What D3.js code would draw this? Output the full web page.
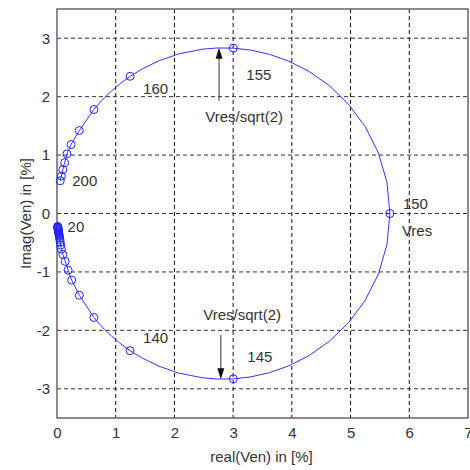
<!DOCTYPE html>
<html>
<head>
<meta charset="utf-8">
<script src="https://cdn.jsdelivr.net/npm/d3@7"></script>
<style>
  html, body { margin: 0; padding: 0; background: #fff; }
  svg text { font-family: "Liberation Sans", Arial, Helvetica, sans-serif; fill: #333; }
</style>
</head>
<body>
<svg id="chart" width="470" height="470"></svg>
<script>
// Frequency markers every 5 Hz (locus of Ven in the complex plane)
const markerFreq = [20, 25, 30, 35, 40, 45, 50, 55, 60, 65, 70, 75, 80, 85, 90, 95, 100,
  105, 110, 115, 120, 125, 130, 135, 140, 145, 150, 155, 160, 165, 170, 175, 180, 185, 190, 195, 200];
const markerRe = [0.010, 0.012, 0.014, 0.016, 0.018, 0.020, 0.022, 0.025, 0.027, 0.030, 0.033,
  0.036, 0.040, 0.044, 0.049, 0.055, 0.062, 0.075, 0.10, 0.14, 0.19, 0.25, 0.38, 0.629, 1.245,
  3.003, 5.670, 3.003, 1.245, 0.629, 0.38, 0.24, 0.17, 0.13, 0.10, 0.075, 0.055];
const markerIm = [-0.22, -0.23, -0.24, -0.25, -0.26, -0.27, -0.285, -0.30, -0.315, -0.33, -0.35,
  -0.37, -0.39, -0.42, -0.45, -0.49, -0.54, -0.61, -0.70, -0.82, -0.97, -1.14, -1.40, -1.780, -2.348,
  -2.830, 0, 2.830, 2.348, 1.780, 1.42, 1.18, 1.02, 0.87, 0.75, 0.64, 0.56];

// Finer sampling of the locus around resonance (135..165 Hz)
const fineFreq = [135, 136, 137, 138, 139, 140, 141, 142, 143, 144, 144.5, 145, 145.5, 146, 146.5,
  147, 147.5, 148, 148.5, 149, 149.5, 150, 150.5, 151, 151.5, 152, 152.5, 153, 153.5, 154, 154.5,
  155, 155.5, 156, 157, 158, 159, 160, 161, 162, 163, 164, 165];
const fineRe = [0.629, 0.712, 0.811, 0.924, 1.069, 1.245, 1.461, 1.727, 2.068, 2.489, 2.731, 3.003,
  3.297, 3.617, 3.949, 4.295, 4.639, 4.964, 5.250, 5.475, 5.620, 5.670, 5.620, 5.475, 5.250, 4.964,
  4.639, 4.295, 3.949, 3.617, 3.297, 3.003, 2.731, 2.489, 2.068, 1.727, 1.461, 1.245, 1.069, 0.924,
  0.811, 0.712, 0.629];
const fineIm = [-1.780, -1.879, -1.984, -2.093, -2.219, -2.348, -2.479, -2.610, -2.730, -2.814, -2.833,
  -2.830, -2.797, -2.725, -2.607, -2.430, -2.187, -1.871, -1.485, -1.035, -0.530, 0, 0.530, 1.035,
  1.485, 1.871, 2.187, 2.430, 2.607, 2.725, 2.797, 2.830, 2.833, 2.814, 2.730, 2.610, 2.479, 2.348,
  2.219, 2.093, 1.984, 1.879, 1.780];

const xTicks = [0, 1, 2, 3, 4, 5, 6, 7];
const yTicks = [-3, -2, -1, 0, 1, 2, 3];

// Frequency labels placed next to their markers
const freqLabels = [
  { f: 20,  dx: 10, dy: 6 },
  { f: 140, dx: 13, dy: -8 },
  { f: 145, dx: 14, dy: -17 },
  { f: 150, dx: 13, dy: -5 },
  { f: 155, dx: 13, dy: 32 },
  { f: 160, dx: 13, dy: 18 },
  { f: 200, dx: 12, dy: 5 }
];

// Traced curve: 5 Hz points off resonance, finer points near it
const curve = [];
markerFreq.forEach((f, i) => {
  if (f < 135 || f > 165) curve.push({ f, re: markerRe[i], im: markerIm[i] });
});
fineFreq.forEach((f, i) => curve.push({ f, re: fineRe[i], im: fineIm[i] }));
curve.sort((a, b) => a.f - b.f);

const markers = markerFreq.map((f, i) => ({ f, re: markerRe[i], im: markerIm[i] }));

const svg = d3.select("#chart");
const x = d3.scaleLinear().domain([0, 7]).range([57, 468]);
const y = d3.scaleLinear().domain([-3.5, 3.5]).range([418, 9]);

// Dashed grid
const grid = svg.append("g");
grid.selectAll("line.gx").data(xTicks.slice(1, -1)).join("line")
  .attr("x1", d => x(d)).attr("x2", d => x(d))
  .attr("y1", y(3.5)).attr("y2", y(-3.5))
  .attr("stroke", "#111").attr("stroke-width", 1).attr("stroke-dasharray", "4,3");
grid.selectAll("line.gy").data(yTicks).join("line")
  .attr("y1", d => y(d)).attr("y2", d => y(d))
  .attr("x1", x(0)).attr("x2", x(7))
  .attr("stroke", "#333").attr("stroke-width", 1).attr("stroke-dasharray", "4,3");

// Axes with labels
const xAxis = svg.append("g").attr("transform", `translate(0,${y(-3.5)})`)
  .call(d3.axisBottom(x).tickValues(xTicks).tickFormat(d3.format("d")).tickSize(0).tickPadding(9));
const yAxis = svg.append("g").attr("transform", `translate(${x(0)},0)`)
  .call(d3.axisLeft(y).tickValues(yTicks).tickFormat(d => d < 0 ? "-" + Math.abs(d) : String(d)).tickSize(0).tickPadding(7));
[xAxis, yAxis].forEach(a => {
  a.select(".domain").remove();
  a.selectAll("text").attr("font-size", 15).attr("fill", "#333")
    .attr("font-family", "'Liberation Sans', Arial, sans-serif");
});

// Frame
svg.append("rect")
  .attr("x", x(0)).attr("y", y(3.5))
  .attr("width", x(7) - x(0)).attr("height", y(-3.5) - y(3.5))
  .attr("fill", "none").attr("stroke", "#666").attr("stroke-width", 1.5);

// Locus line
const line = d3.line().x(d => x(d.re)).y(d => y(d.im));
svg.append("path").datum(curve)
  .attr("d", line).attr("fill", "none")
  .attr("stroke", "#3333ff").attr("stroke-width", 1);

// Open circle markers
svg.append("g").selectAll("circle").data(markers).join("circle")
  .attr("cx", d => x(d.re)).attr("cy", d => y(d.im)).attr("r", 4)
  .attr("fill", "none").attr("stroke", "#2222ff").attr("stroke-width", 1);

// Frequency labels
const byF = new Map(markers.map(d => [d.f, d]));
svg.append("g").selectAll("text").data(freqLabels).join("text")
  .attr("x", d => x(byF.get(d.f).re) + d.dx)
  .attr("y", d => y(byF.get(d.f).im) + d.dy)
  .attr("font-size", 15).text(d => d.f);

// Resonance annotation
const res = byF.get(150);
svg.append("text").attr("x", x(res.re) + 12).attr("y", y(res.im) + 22)
  .attr("font-size", 15).text("Vres");

// Half-power annotations with arrows pointing at the locus
const half = [
  { f: 155, ax: 2.76, tipIm: 2.835, tailIm: 1.93, tx: -28, ty: 74 },
  { f: 145, ax: 2.79, tipIm: -2.835, tailIm: -2.08, tx: -30, ty: -59 }
];
half.forEach(h => {
  const m = byF.get(h.f);
  const xa = x(h.ax), yTip = y(h.tipIm), yTail = y(h.tailIm);
  const dir = yTail > yTip ? 1 : -1;
  svg.append("line").attr("x1", xa).attr("x2", xa)
    .attr("y1", yTail).attr("y2", yTip + dir * 8)
    .attr("stroke", "#333").attr("stroke-width", 1);
  svg.append("path")
    .attr("d", `M${xa},${yTip} L${xa - 3.5},${yTip + dir * 11} L${xa + 3.5},${yTip + dir * 11} Z`)
    .attr("fill", "#111");
  svg.append("text").attr("x", x(m.re) + h.tx).attr("y", y(m.im) + h.ty)
    .attr("font-size", 15).text("Vres/sqrt(2)");
});

// Axis titles
svg.append("text").attr("x", (x(0) + x(7)) / 2 - 1).attr("y", 462)
  .attr("text-anchor", "middle").attr("font-size", 15).text("real(Ven) in [%]");
svg.append("text")
  .attr("transform", `translate(31,${(y(3.5) + y(-3.5)) / 2}) rotate(-90)`)
  .attr("text-anchor", "middle").attr("font-size", 15).text("Imag(Ven) in [%]");
</script>
</body>
</html>
